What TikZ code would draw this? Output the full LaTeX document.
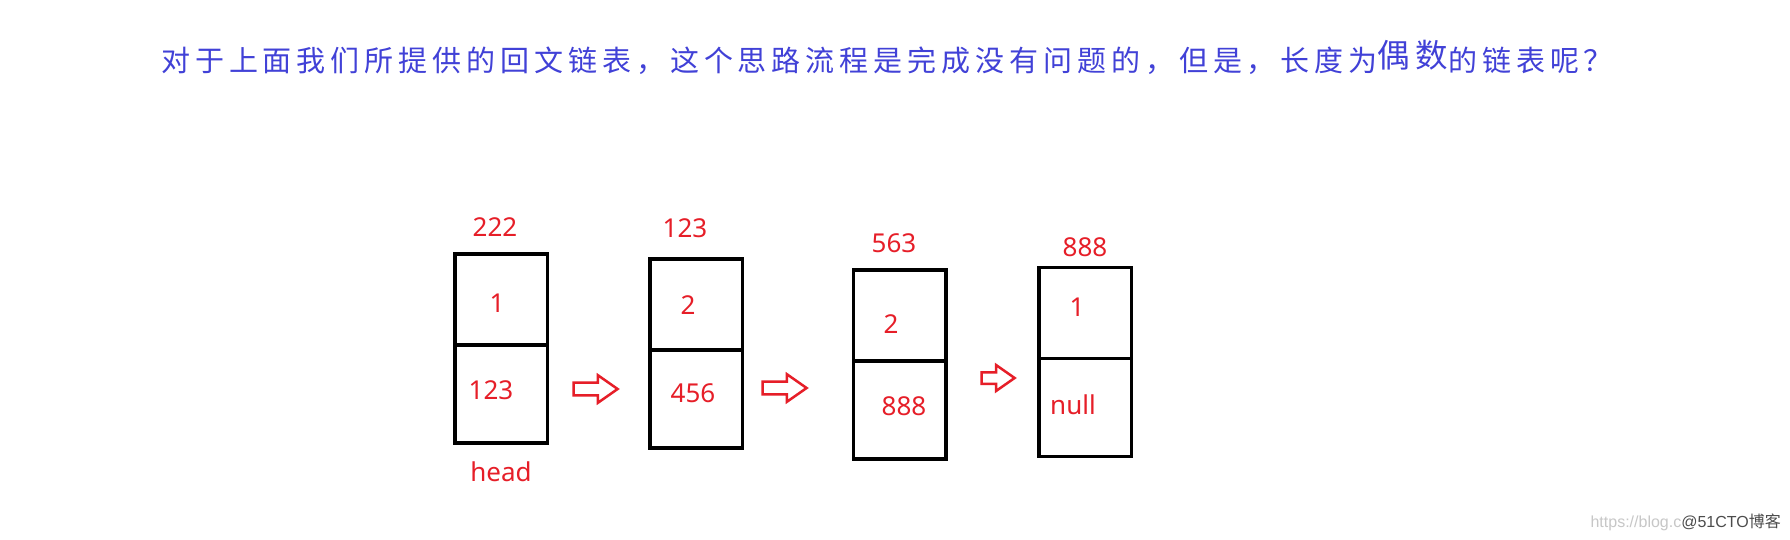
\documentclass[tikz,border=0pt]{standalone}
\usepackage{fontspec}
\setmainfont{Noto Sans}
\newfontfamily\cjk{Noto Sans CJK SC}
\newfontfamily\cjktitle[LetterSpace=17]{Noto Sans CJK SC}
\newfontfamily\wmfont{Liberation Sans}
\usepackage{xcolor}
\usetikzlibrary{positioning,shapes.arrows}
\definecolor{titleblue}{RGB}{65,65,215}
\definecolor{valred}{RGB}{230,30,40}

\begin{document}
\begin{tikzpicture}
		[x=1pt,y=-1pt,
		cell/.style={draw=black,line width=3.5pt,rectangle,minimum width=92.5pt,outer sep=0pt,inner sep=0pt},
		topcell/.style={cell,minimum height=91pt},
		botcell/.style={cell,minimum height=98pt},
		val/.style={text=valred,font=\fontsize{26}{26}\selectfont,inner sep=0pt},
		nextarrow/.style={single arrow,draw=valred,line width=2.5pt,inner sep=5pt,minimum height=44pt,minimum width=27.5pt,single arrow tip angle=70},
		title/.style={text=titleblue,font=\cjktitle\fontsize{29}{29}\selectfont,inner sep=0pt,anchor=base west}]
		\useasboundingbox (0,0) rectangle (1790,539);
		\fill[white] (0,0) rectangle (1790,539);
		% question
		\node[title] (question) at (161,71) {对于上面我们所提供的回文链表，这个思路流程是完成没有问题的，但是，长度为{\fontsize{32.5}{32.5}\selectfont\raisebox{4pt}{偶数}}的链表呢？};
		% node 1
		\node[topcell] (n1data) at (501,299.5) {};
		\node[botcell,below=0 of n1data] (n1next) {};
		\node[val] (n1addr) at (495,227) {222};
		\node[val] (n1val) at (497,303) {1};
		\node[val] (n1ptr) at (491,390) {123};
		\node[val] (head) at (501,472) {head};
		% node 2
		\node[topcell] (n2data) at (696,304.5) {};
		\node[botcell,below=0 of n2data] (n2next) {};
		\node[val] (n2addr) at (685,228) {123};
		\node[val] (n2val) at (688,305) {2};
		\node[val] (n2ptr) at (693,393) {456};
		% node 3
		\node[topcell] (n3data) at (899.5,315.5) {};
		\node[botcell,below=0 of n3data] (n3next) {};
		\node[val] (n3addr) at (894,243) {563};
		\node[val] (n3val) at (891,324) {2};
		\node[val] (n3ptr) at (904,406) {888};
		% node 4
		\node[topcell] (n4data) at (1085,313) {};
		\node[botcell,below=0 of n4data] (n4next) {};
		\node[val] (n4addr) at (1085,247) {888};
		\node[val] (n4val) at (1077,307) {1};
		\node[val] (n4ptr) at (1073,405) {null};
		% arrows
		\node[nextarrow] (a12) at (591,389) {};
		\node[nextarrow] (a23) at (780,388) {};
		\node[nextarrow,minimum height=33pt,minimum width=24.5pt,inner sep=4.5pt] (a34) at (994,378) {};
		% watermark
		\node[anchor=east,inner sep=0pt,font=\wmfont\fontsize{16}{16}\selectfont] (watermark) at (1781,522)
			{\textcolor{black!22}{https://blog.c}\textcolor{black!70}{@51CTO{\cjk 博客}}};
\end{tikzpicture}
\end{document}
